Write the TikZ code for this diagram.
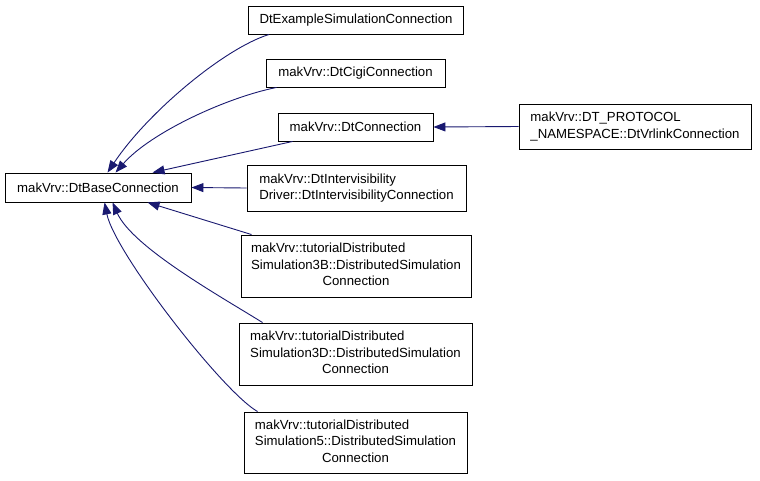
\documentclass[tikz,border=0pt]{standalone}
\usepackage{fontspec}
\setmainfont{Liberation Sans}
\usetikzlibrary{arrows.meta}
\definecolor{edgeblue}{HTML}{191970}
\newcommand{\lines}[1]{\begin{tabular}{@{}l@{}}#1\end{tabular}}
\newcommand{\lastc}[1]{\multicolumn{1}{@{}c@{}}{#1}}
\begin{document}
\begin{tikzpicture}[x=1pt,y=-1pt,
  box/.style={draw=black, line width=0.9pt, fill=white, inner sep=0pt,
    font=\fontsize{13.2}{16.5}\selectfont},
  edge/.style={draw=edgeblue, line width=0.9pt,
    -{Triangle[length=12pt,width=9pt]}}]
\useasboundingbox (0,0) rectangle (760,480);
\fill[white] (0,0) rectangle (760,480);

\node[box, minimum width=186pt, minimum height=29pt] (base) at (98,187.5) {makVrv::DtBaseConnection};
\node[box, minimum width=215pt, minimum height=28pt] (ex) at (356,20) {DtExampleSimulationConnection};
\node[box, minimum width=179pt, minimum height=28pt] (cigi) at (355.5,73) {makVrv::DtCigiConnection};
\node[box, minimum width=155pt, minimum height=28pt] (dtc) at (355.5,127) {makVrv::DtConnection};
\node[box, minimum width=232pt, minimum height=45pt] (vr) at (635,126.5) {\lines{makVrv::DT\_PROTOCOL\\\_NAMESPACE::DtVrlinkConnection}};
\node[box, minimum width=219pt, minimum height=46pt] (iv) at (356.5,188) {\lines{makVrv::DtIntervisibility\\Driver::DtIntervisibilityConnection}};
\node[box, minimum width=230pt, minimum height=62pt] (tb) at (356,266) {\lines{makVrv::tutorialDistributed\\Simulation3B::DistributedSimulation\\\lastc{Connection}}};
\node[box, minimum width=233pt, minimum height=62pt] (td) at (355.5,354) {\lines{makVrv::tutorialDistributed\\Simulation3D::DistributedSimulation\\\lastc{Connection}}};
\node[box, minimum width=223pt, minimum height=61pt] (tf) at (355.5,442.5) {\lines{makVrv::tutorialDistributed\\Simulation5::DistributedSimulation\\\lastc{Connection}}};

\draw[edge] ([xshift=21pt]ex.south west) .. controls +(-45,14) and +(40,-60) .. ([xshift=103pt]base.north west);
\draw[edge] ([xshift=11pt]cigi.south west) .. controls +(-50,10) and +(35,-40) .. ([xshift=111pt]base.north west);
\draw[edge] ([xshift=15pt]dtc.south west) -- ([xshift=148pt]base.north west);
\draw[edge] (iv.west) -- (base.east);
\draw[edge] ([xshift=11pt]tb.north west) -- ([xshift=143pt]base.south west);
\draw[edge] ([xshift=24pt]td.north west) .. controls +(-40,-25) and +(20,45) .. ([xshift=108pt]base.south west);
\draw[edge] ([xshift=14pt]tf.north west) .. controls +(-35,-20) and +(10,50) .. ([xshift=100pt]base.south west);
\draw[edge] (vr.west) -- (dtc.east);
\end{tikzpicture}
\end{document}
